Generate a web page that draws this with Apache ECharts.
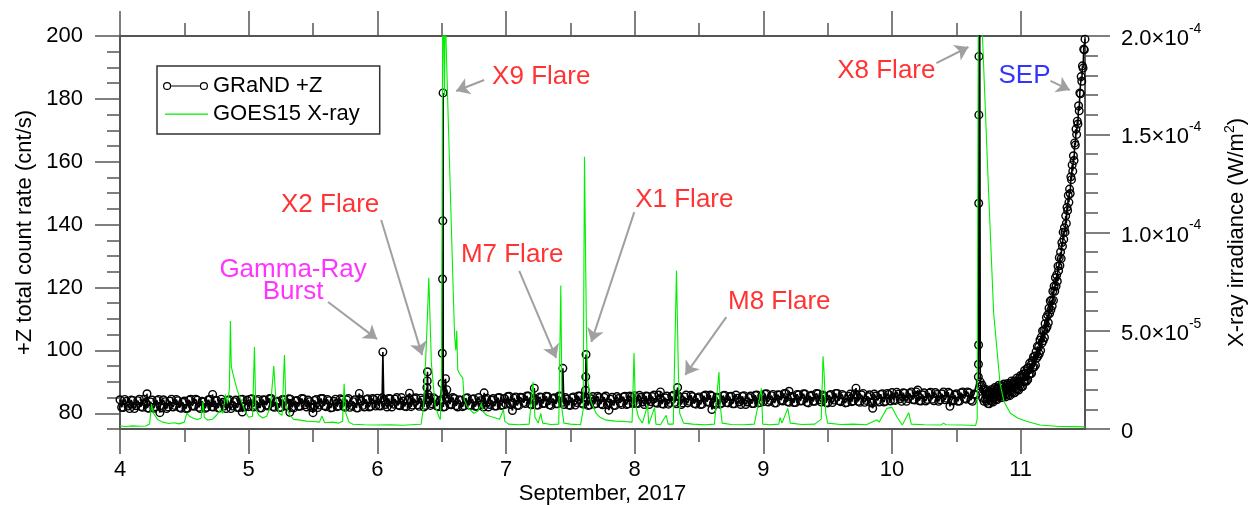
<!DOCTYPE html>
<html>
<head>
<meta charset="utf-8">
<script src="https://cdn.jsdelivr.net/npm/echarts@6.0.0/dist/echarts.min.js"></script>
<style>
  html, body { margin: 0; padding: 0; background: #fff; }
  #chart { width: 1251px; height: 505px; }
</style>
</head>
<body>
<div id="chart"></div>
<script>
// GRaND +Z total count rate (cnt/s), one value every 0.025 day from Sep 4.000 to Sep 10.650
const grandT0 = 4.0;
const grandDt = 0.025;
const grandBase = [
  // Sep 4
  84.3,81.8,83.8,81.5,84.1,82.4,84.5,81.9,83.4,81.6,84.2,82.1,84.4,81.7,83.7,82.0,84.5,82.5,84.0,81.6,
  83.9,81.6,84.5,82.2,84.2,81.5,83.6,81.9,84.4,82.0,84.1,81.7,83.5,81.5,84.3,82.3,84.2,81.8,84.5,82.1,
  // Sep 5
  82.1,84.6,82.5,84.4,81.7,84.2,82.3,84.7,81.9,83.8,81.8,84.3,82.4,84.5,81.7,84.1,82.2,84.6,82.0,83.7,
  81.7,84.4,82.6,84.7,82.1,84.0,81.8,84.5,82.3,84.2,81.9,84.7,82.5,84.3,81.7,83.9,82.0,84.6,82.2,84.4,
  // Sep 6
  84.8,82.3,84.3,82.0,84.6,82.9,85.0,82.4,83.9,82.1,84.7,82.6,84.9,82.2,84.2,82.5,85.0,83.0,84.5,82.1,
  84.4,82.1,85.0,82.7,84.7,82.0,84.1,82.4,84.9,82.5,84.6,82.2,84.0,82.0,84.8,82.8,84.7,82.3,85.0,82.6,
  // Sep 7
  82.9,85.4,83.3,85.2,82.5,85.0,83.1,85.5,82.7,84.6,82.6,85.1,83.2,85.3,82.5,84.9,83.0,85.4,82.8,84.5,
  82.5,85.2,83.4,85.5,82.9,84.8,82.6,85.3,83.1,85.0,82.7,85.5,83.3,85.1,82.5,84.7,82.8,85.4,83.0,85.2,
  // Sep 8
  85.6,83.1,85.1,82.8,85.4,83.7,85.8,83.2,84.7,82.9,85.5,83.4,85.7,83.0,85.0,83.3,85.8,83.8,85.3,82.9,
  85.2,82.9,85.8,83.5,85.5,82.8,84.9,83.2,85.7,83.3,85.4,83.0,84.8,82.8,85.6,83.6,85.5,83.1,85.8,83.4,
  // Sep 9
  83.7,86.2,84.1,86.0,83.3,85.8,83.9,86.3,83.5,85.4,83.4,85.9,84.0,86.1,83.3,85.7,83.8,86.2,83.6,85.3,
  83.3,86.0,84.2,86.3,83.7,85.6,83.4,86.1,83.9,85.8,83.5,86.3,84.1,85.9,83.3,85.5,83.6,86.2,83.8,86.0,
  // Sep 10 (to 10.650)
  86.6,84.1,86.1,83.8,86.4,84.7,86.8,84.2,85.7,83.9,86.5,84.4,86.7,84.0,86.0,84.3,86.8,84.8,86.3,83.9,
  86.2,83.9,86.8,84.5,86.5,83.8,85.9
];

// the in-between samples, every 0.025 day from Sep 4.0125 to Sep 10.6375
const grandMidT0 = 4.0125;
const grandMid = [
  // Sep 4
  81.9,84.4,82.3,84.2,81.5,84.0,82.1,84.5,81.7,83.6,81.6,84.1,82.2,84.3,81.5,83.9,82.0,84.4,81.8,83.5,
  81.5,84.2,82.4,84.5,81.9,83.8,81.6,84.3,82.1,84.0,81.7,84.5,82.3,84.1,81.5,83.7,81.8,84.4,82.0,84.2,
  // Sep 5
  84.5,82.0,84.0,81.7,84.3,82.6,84.7,82.1,83.6,81.8,84.4,82.3,84.6,81.9,83.9,82.2,84.7,82.7,84.2,81.8,
  84.1,81.8,84.7,82.4,84.4,81.7,83.8,82.1,84.6,82.2,84.3,81.9,83.7,81.7,84.5,82.5,84.4,82.0,84.7,82.3,
  // Sep 6
  82.4,84.9,82.8,84.7,82.0,84.5,82.6,85.0,82.2,84.1,82.1,84.6,82.7,84.8,82.0,84.4,82.5,84.9,82.3,84.0,
  82.0,84.7,82.9,85.0,82.4,84.3,82.1,84.8,82.6,84.5,82.2,85.0,82.8,84.6,82.0,84.2,82.3,84.9,82.5,84.7,
  // Sep 7
  85.3,82.8,84.8,82.5,85.1,83.4,85.5,82.9,84.4,82.6,85.2,83.1,85.4,82.7,84.7,83.0,85.5,83.5,85.0,82.6,
  84.9,82.6,85.5,83.2,85.2,82.5,84.6,82.9,85.4,83.0,85.1,82.7,84.5,82.5,85.3,83.3,85.2,82.8,85.5,83.1,
  // Sep 8
  83.2,85.7,83.6,85.5,82.8,85.3,83.4,85.8,83.0,84.9,82.9,85.4,83.5,85.6,82.8,85.2,83.3,85.7,83.1,84.8,
  82.8,85.5,83.7,85.8,83.2,85.1,82.9,85.6,83.4,85.3,83.0,85.8,83.6,85.4,82.8,85.0,83.1,85.7,83.3,85.5,
  // Sep 9
  86.1,83.6,85.6,83.3,85.9,84.2,86.3,83.7,85.2,83.4,86.0,83.9,86.2,83.5,85.5,83.8,86.3,84.3,85.8,83.4,
  85.7,83.4,86.3,84.0,86.0,83.3,85.4,83.7,86.2,83.8,85.9,83.5,85.3,83.3,86.1,84.1,86.0,83.6,86.3,83.9,
  // Sep 10 (to 10.6375)
  84.2,86.7,84.6,86.5,83.8,86.3,84.4,86.8,84.0,85.9,83.9,86.4,84.5,86.6,83.8,86.2,84.3,86.7,84.1,85.8,
  83.8,86.5,84.7,86.8,84.2,86.1
];

// isolated outlying samples around the band [day, cnt/s]
const grandOutliers = [
  [4.21, 86.2], [4.31, 80.2], [4.72, 86.0], [4.95, 80.4], [5.32, 80.3], [5.50, 80.2],
  [5.86, 86.3], [6.25, 86.4], [6.83, 86.5], [7.05, 80.9], [7.22, 88.0], [7.80, 81.0],
  [8.20, 86.8], [8.60, 81.2], [9.20, 87.0], [9.72, 88.0], [9.85, 81.6], [10.20, 87.4], [10.45, 82.2]
];

// event spikes [day, cnt/s]
const grandEvents = [
  [6.043, 99.5],
  [6.385, 88.2], [6.388, 90.3], [6.390, 93.2], [6.393, 86.0],
  [6.503, 89.5], [6.505, 99.1], [6.507, 122.7], [6.509, 141.2], [6.511, 181.9], [6.530, 91.0], [6.540, 87.5],
  [7.442, 94.3],
  [7.618, 87.3], [7.620, 91.6], [7.622, 98.7],
  [8.334, 88.2],
  [10.671, 91.6], [10.672, 95.6], [10.673, 101.7], [10.674, 146.8], [10.675, 174.9], [10.676, 193.5],
  [10.678, 240], [10.680, 260], [10.686, 90.0], [10.692, 88.5]
];

// SEP rise, one value every 0.005 day from Sep 10.700 to 11.500
const sepT0 = 10.70;
const sepDt = 0.005;
const grandSep = [
  89.0, 84.8, 87.5, 83.8, 87.4, 84.6, 87.6, 83.8, 86.0, 83.1,
  86.9, 83.0, 86.6, 84.1, 87.5, 83.8, 86.6, 83.6, 87.5, 85.0,
  88.2, 84.5, 87.6, 84.3, 88.1, 85.6, 88.9, 85.3, 87.6, 84.9,
  88.8, 85.0, 88.5, 86.0, 89.3, 85.6, 88.2, 85.2, 88.9, 86.4,
  89.5, 85.8, 88.9, 85.6, 89.5, 87.0, 90.3, 86.7, 89.1, 86.4,
  90.3, 86.6, 90.2, 87.8, 91.2, 87.6, 90.3, 87.4, 91.2, 88.8,
  92.0, 88.4, 91.6, 88.5, 92.5, 90.2, 93.6, 90.2, 92.7, 90.2,
  94.3, 90.7, 94.5, 92.3, 95.9, 92.5, 95.4, 92.7, 96.7, 94.5,
  98.0, 94.7, 98.2, 95.3, 99.6, 97.6, 101.3, 98.2, 101.1, 98.9,
  103.3, 100.0, 104.2, 102.3, 106.2, 103.1, 106.4, 104.1, 108.5, 106.7,
  110.5, 107.5, 111.3, 108.8, 113.4, 111.7, 115.7, 112.9, 116.0, 114.1,
  118.8, 115.9, 120.4, 118.8, 123.1, 120.4, 124.0, 122.0, 126.8, 125.3,
  129.5, 127.0, 131.3, 129.2, 134.3, 133.1, 137.6, 135.3, 139.0, 137.6,
  142.8, 140.4, 145.5, 144.5, 149.3, 147.1, 151.3, 149.9, 155.2, 154.3,
  159.0, 157.0, 161.9, 160.4, 166.0, 165.3, 170.4, 168.7, 172.9, 172.0,
  177.8, 176.2, 181.9, 181.6, 187.1, 185.6, 190.5, 189.8, 195.8, 195.6,
  199.0
];

// GOES-15 long X-ray irradiance [day, 1e-6 W/m^2]
const goesFlux = [
  [4.00,1.5],[4.05,1.3],[4.10,1.6],[4.15,1.4],[4.20,1.5],[4.23,2.5],[4.245,12.7],[4.26,8.0],[4.29,5.0],
  [4.33,3.5],[4.38,2.8],[4.42,3.2],[4.46,2.6],[4.50,3.5],[4.52,8.1],[4.54,6.5],[4.57,5.5],[4.60,4.8],
  [4.63,5.5],[4.645,13.9],[4.655,6.0],[4.68,4.5],[4.72,5.0],[4.75,7.0],[4.78,9.6],[4.80,8.0],[4.82,17.6],
  [4.835,13.0],[4.85,20.0],[4.858,55.0],[4.865,31.7],[4.88,27.5],[4.91,20.0],[4.93,16.5],[4.96,11.0],
  [4.98,8.0],[5.00,6.0],[5.03,6.5],[5.045,41.7],[5.055,10.0],[5.08,7.0],[5.11,5.6],[5.14,6.5],[5.17,11.5],
  [5.195,32.0],[5.21,16.5],[5.235,8.0],[5.26,7.0],[5.278,37.6],[5.29,11.5],[5.32,7.0],[5.35,4.9],[5.40,4.5],
  [5.45,4.0],[5.50,3.8],[5.55,3.5],[5.57,6.6],[5.59,3.2],[5.65,3.5],[5.70,3.0],[5.73,4.0],[5.742,23.0],
  [5.755,8.0],[5.78,3.5],[5.81,2.4],[5.90,2.2],[6.00,2.0],[6.10,2.1],[6.20,1.9],[6.30,2.3],[6.34,2.4],
  [6.36,11.5],[6.385,50],[6.40,77],[6.42,33.6],[6.45,11.5],[6.48,6.0],[6.49,4.9],[6.50,30],[6.505,150],
  [6.51,250],[6.517,190],[6.522,170],[6.528,230],[6.535,195],[6.55,160],[6.57,115],[6.59,70],[6.60,48],
  [6.61,40],[6.617,50],[6.625,30],[6.64,28],[6.664,26],[6.675,15],[6.70,11],[6.75,8],[6.78,9],[6.81,13],
  [6.82,9],[6.85,7],[6.90,6],[6.95,5],[6.98,10],[6.99,4],[7.02,2.5],[7.10,2.2],[7.18,2.5],[7.21,24],
  [7.225,6],[7.25,3],[7.27,8],[7.285,3],[7.35,2.3],[7.41,2.5],[7.426,73],[7.435,10],[7.45,3],[7.50,2.5],
  [7.58,2.2],[7.60,10],[7.61,138.6],[7.625,50],[7.635,25],[7.66,14],[7.70,8],[7.73,6],[7.78,4.5],[7.85,4],
  [7.92,3.8],[7.98,3.5],[7.995,38.7],[8.005,12.7],[8.03,6],[8.06,3],[8.10,12],[8.11,2.5],[8.155,11],
  [8.165,2.5],[8.20,2.2],[8.245,7],[8.26,2.5],[8.30,2.5],[8.325,80.6],[8.34,28],[8.35,8],[8.38,3],
  [8.45,2.5],[8.55,2.2],[8.62,2.5],[8.655,29],[8.665,12],[8.68,3],[8.75,2.3],[8.85,2.2],[8.93,2.5],
  [8.985,20.7],[8.995,2.5],[9.05,2.2],[9.12,2.5],[9.13,5.8],[9.145,3],[9.19,10.5],[9.21,3],[9.30,2.3],
  [9.40,2.5],[9.45,5],[9.464,37],[9.472,29],[9.485,8],[9.50,3],[9.60,2.3],[9.70,2.5],[9.80,2.2],
  [9.884,4.7],[9.90,3.5],[9.96,10.5],[10.00,11],[10.04,6],[10.08,2],[10.13,8.3],[10.15,2.5],[10.25,2.2],
  [10.38,2.0],[10.40,3.0],[10.42,2.2],[10.55,2.0],[10.65,1.8],[10.662,5],[10.668,150],[10.672,240],
  [10.70,205],[10.745,130],[10.79,59],[10.84,23],[10.87,14],[10.92,8],[10.98,5.5],[11.05,3.8],[11.15,2],
  [11.30,1.3],[11.40,1.2],[11.50,1.1]
];

// ticks
const xMajor = [4, 5, 6, 7, 8, 9, 10, 11];
const xMinor = [4.5, 5.5, 6.5, 7.5, 8.5, 9.5, 10.5];
const yLeftMajor = [80, 100, 120, 140, 160, 180, 200];
const yLeftMinor = [75, 80, 85, 90, 95, 100, 105, 110, 115, 120, 125, 130, 135, 140, 145, 150,
  155, 160, 165, 170, 175, 180, 185, 190, 195, 200];
const yRightMajor = [0, 50, 100, 150, 200];
const yRightMinor = [0, 10, 20, 30, 40, 50, 60, 70, 80, 90, 100, 110, 120, 130, 140, 150,
  160, 170, 180, 190, 200];

// annotations: label centre, arrow start, arrow tip (day, cnt/s)
const annotations = [
  { text: 'Gamma-Ray\nBurst', color: '#ff00ff', at: [5.345, 122.1], from: [5.617, 115.4], to: [5.998, 103.6] },
  { text: 'X2 Flare', color: '#ff0000', at: [5.633, 146.2], from: [6.030, 141.5], to: [6.348, 98.5] },
  { text: 'X9 Flare', color: '#ff0000', at: [7.274, 187.0], from: [6.830, 186.0], to: [6.613, 182.5] },
  { text: 'M7 Flare', color: '#ff0000', at: [7.048, 130.3], from: [7.103, 125.3], to: [7.390, 97.6] },
  { text: 'X1 Flare', color: '#ff0000', at: [8.386, 147.8], from: [7.997, 144.0], to: [7.663, 102.7] },
  { text: 'M8 Flare', color: '#ff0000', at: [9.124, 115.4], from: [8.712, 110.6], to: [8.393, 92.2] },
  { text: 'X8 Flare', color: '#ff0000', at: [9.956, 188.9], from: [10.345, 191.4], to: [10.594, 196.5] },
  { text: 'SEP', color: '#0000ff', at: [11.030, 187.3], from: [11.232, 185.7], to: [11.382, 182.8] }
];

const FONT = 'Liberation Sans, Arial, sans-serif';
const AXIS_COLOR = '#555';
// open ring marker (transparent inside, so the trace shows through as in the original)
const RING = 'path://M0,4.5 A4.5,4.5 0 1,1 9,4.5 A4.5,4.5 0 1,1 0,4.5 Z M1.4,4.5 A3.1,3.1 0 1,0 7.6,4.5 A3.1,3.1 0 1,0 1.4,4.5 Z';

// assemble the GRaND series in time order
const grandData = [];
grandBase.forEach((v, i) => grandData.push([+(grandT0 + i * grandDt).toFixed(4), v]));
grandMid.forEach((v, i) => grandData.push([+(grandMidT0 + i * grandDt).toFixed(4), v]));
grandSep.forEach((v, i) => grandData.push([+(sepT0 + i * sepDt).toFixed(4), v]));
grandOutliers.forEach(p => grandData.push(p));
grandEvents.forEach(p => grandData.push(p));
grandData.sort((a, b) => a[0] - b[0]);

function sciLabel(v) {
  if (v === 0) return '{m|0}';
  const w = v * 1e-6;
  const e = Math.floor(Math.log10(w) + 1e-9);
  const m = (w / Math.pow(10, e)).toFixed(1);
  return '{m|' + m + '×10}{e|' + e + '}';
}

function xAxisOf(pos, ticks, len, withLine, withLabels) {
  return {
    type: 'value', position: pos, min: 4, max: 11.5,
    axisLine: { show: withLine, onZero: false, lineStyle: { color: AXIS_COLOR, width: 2 } },
    axisTick: { show: true, inside: false, length: len, customValues: ticks,
      lineStyle: { color: AXIS_COLOR, width: 1.5 } },
    axisLabel: withLabels
      ? { show: true, customValues: ticks, margin: 30, fontSize: 22, color: '#000', fontFamily: FONT }
      : { show: false },
    splitLine: { show: false }
  };
}

function yAxisOf(pos, min, max, ticks, len, withLine, label) {
  return {
    type: 'value', position: pos, min: min, max: max,
    axisLine: { show: withLine, onZero: false, lineStyle: { color: AXIS_COLOR, width: 2 } },
    axisTick: { show: true, inside: false, length: len, customValues: ticks,
      lineStyle: { color: AXIS_COLOR, width: 1.5 } },
    axisLabel: label ? Object.assign({ show: true, customValues: ticks }, label) : { show: false },
    splitLine: { show: false }
  };
}

const chart = echarts.init(document.getElementById('chart'), null, { renderer: 'canvas' });

const xBottom = xAxisOf('bottom', xMajor, 25, true, true);
Object.assign(xBottom, {
  name: 'September, 2017', nameLocation: 'middle', nameGap: 54, nameMoveOverlap: false,
  nameTextStyle: { fontSize: 22, color: '#000', fontFamily: FONT }
});

const yLeft = yAxisOf('left', 75, 200, yLeftMajor, 25, true,
  { margin: 37, fontSize: 22, color: '#000', fontFamily: FONT });
Object.assign(yLeft, {
  name: '+Z total count rate (cnt/s)', nameLocation: 'middle', nameRotate: 90, nameGap: 84,
  nameMoveOverlap: false,
  nameTextStyle: { fontSize: 22, color: '#000', fontFamily: FONT }
});

const yRight = yAxisOf('right', 0, 200, yRightMajor, 25, true, {
  margin: 36, color: '#000', fontFamily: FONT,
  formatter: sciLabel,
  rich: {
    m: { fontSize: 22, color: '#000', fontFamily: FONT, lineHeight: 28, verticalAlign: 'bottom' },
    e: { fontSize: 14, color: '#000', fontFamily: FONT, lineHeight: 28, verticalAlign: 'top' }
  }
});
Object.assign(yRight, {
  name: 'X-ray irradiance (W/m{s|2})', nameLocation: 'middle', nameRotate: 90, nameGap: 138,
  nameMoveOverlap: false,
  nameTextStyle: {
    fontSize: 22, color: '#000', fontFamily: FONT,
    rich: { s: { fontSize: 14, color: '#000', fontFamily: FONT, verticalAlign: 'top', lineHeight: 28 } }
  }
});

const option = {
  animation: false,
  backgroundColor: '#fff',
  textStyle: { fontFamily: FONT },
  grid: { left: 120, right: 166, top: 36, bottom: 76, containLabel: false, outerBoundsMode: 'none' },
  legend: {
    show: true, left: 157, top: 66, orient: 'vertical',
    padding: [9, 20, 9, 6], itemGap: 6, itemWidth: 45, itemHeight: 9,
    borderColor: '#333', borderWidth: 1.5, backgroundColor: '#fff',
    textStyle: { fontSize: 22, color: '#000', fontFamily: FONT },
    selectedMode: false,
    data: [
      { name: 'GRaND +Z',
        icon: 'path://M0.5,4.5 A4,4 0 1,1 8.5,4.5 A4,4 0 1,1 0.5,4.5 Z M1.7,4.5 A2.8,2.8 0 1,0 7.3,4.5 A2.8,2.8 0 1,0 1.7,4.5 Z M8.5,3.9 L36.5,3.9 L36.5,5.1 L8.5,5.1 Z M36.5,4.5 A4,4 0 1,1 44.5,4.5 A4,4 0 1,1 36.5,4.5 Z M37.7,4.5 A2.8,2.8 0 1,0 43.3,4.5 A2.8,2.8 0 1,0 37.7,4.5 Z',
        itemStyle: { color: '#000', borderWidth: 0 } },
      { name: 'GOES15 X-ray',
        icon: 'path://M0,0 L0.01,0 L0.01,9 L0,9 Z M2,4 L45,4 L45,5.2 L2,5.2 Z',
        itemStyle: { color: '#00ee00', borderWidth: 0 } }
    ]
  },
  xAxis: [
    xBottom,
    xAxisOf('bottom', xMinor, 13, false, false),
    xAxisOf('top', xMajor, 25, true, false),
    xAxisOf('top', xMinor, 13, false, false)
  ],
  yAxis: [
    yLeft,
    yRight,
    yAxisOf('left', 75, 200, yLeftMinor, 13, false, null),
    yAxisOf('right', 0, 200, yRightMinor, 13, false, null)
  ],
  series: [
    {
      name: 'GRaND +Z', type: 'line', xAxisIndex: 0, yAxisIndex: 0,
      data: grandData,
      symbol: RING, symbolSize: 9, showSymbol: true, showAllSymbol: true,
      itemStyle: { color: '#000', borderWidth: 0 },
      lineStyle: { color: '#000', width: 1.6 },
      clip: true, silent: true, z: 2
    },
    {
      name: 'GOES15 X-ray', type: 'line', xAxisIndex: 0, yAxisIndex: 1,
      data: goesFlux,
      symbol: 'none', showSymbol: false,
      lineStyle: { color: '#00ee00', width: 1.1 },
      itemStyle: { color: '#00ee00' },
      clip: true, silent: true, z: 3
    },
    {
      name: 'annotations', type: 'scatter', xAxisIndex: 0, yAxisIndex: 0,
      symbol: 'circle', symbolSize: 1, itemStyle: { color: 'rgba(0,0,0,0)' },
      silent: true, z: 5,
      label: {
        show: true, position: 'inside', fontSize: 26, lineHeight: 22, fontFamily: FONT,
        formatter: p => p.name
      },
      data: annotations.map(a => ({ name: a.text, value: a.at, label: { color: a.color } })),
      markLine: {
        silent: true, symbol: ['none', 'arrow'], symbolSize: 13,
        lineStyle: { color: '#a0a0a0', width: 2, type: 'solid' },
        label: { show: false }, emphasis: { disabled: true },
        data: annotations.map(a => [{ coord: a.from }, { coord: a.to }])
      }
    }
  ]
};

chart.setOption(option);
</script>
</body>
</html>
